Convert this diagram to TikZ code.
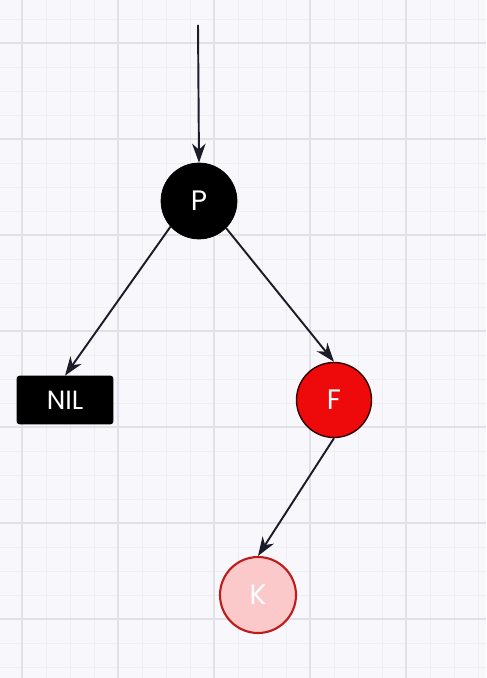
\documentclass[tikz,border=0pt]{standalone}
\usepackage{fontspec}
\newfontfamily\treefont{Poppins}
\usepackage{tikz}
\usetikzlibrary{arrows.meta, positioning}

\definecolor{paper}{HTML}{F8F8FC}
\definecolor{gridminor}{HTML}{EEEEF3}
\definecolor{gridmajor}{HTML}{E1E1E8}
\definecolor{inkdark}{HTML}{1C1C28}
\definecolor{redfill}{HTML}{EE0A0A}
\definecolor{pinkfill}{HTML}{FBC9C9}
\definecolor{pinkedge}{HTML}{C01A1A}

\begin{document}
\begin{tikzpicture}[
  x=0.02cm, y=-0.02cm,
  font=\treefont\fontsize{16}{18}\selectfont,
  blacknode/.style={circle, draw=black, fill=black, text=white, minimum size=1.52cm, inner sep=0pt},
  rednode/.style={circle, draw=black!80!red, line width=0.8pt, fill=redfill, text=white, minimum size=1.5cm, inner sep=0pt},
  newnode/.style={circle, draw=pinkedge, line width=1.2pt, fill=pinkfill, text=white, minimum size=1.52cm, inner sep=0pt},
  nilbox/.style={draw=black, fill=black, text=white, rounded corners=1.5pt, minimum width=1.92cm, minimum height=0.96cm, inner sep=0pt},
  edge/.style={line width=1.1pt, inkdark, -{Stealth[length=3.8mm, width=2.7mm, inset=1.2mm]}},
  minorline/.style={gridminor, line width=0.5pt},
  majorline/.style={gridmajor, line width=0.9pt},
]
% Paper and grid
\fill[paper] (0,0) rectangle (486,678);
\useasboundingbox (0,0) rectangle (486,678);
\foreach \gx in {-2,22,...,486} { \draw[minorline] (\gx,0) -- (\gx,678); }
\foreach \gy in {19,43,...,678} { \draw[minorline] (0,\gy) -- (486,\gy); }
\foreach \gx in {22,118,...,486} { \draw[majorline] (\gx,0) -- (\gx,678); }
\foreach \gy in {43,139,...,678} { \draw[majorline] (0,\gy) -- (486,\gy); }

% Nodes
\node[blacknode] (P) at (199,201) {P};
\node[nilbox] (NIL) at (65,400) {\fontsize{15}{17}\selectfont NIL};
\node[rednode] (F) at (334,400) {F};
\node[newnode] (K) at (258,595) {K};
\coordinate (entry) at (198,25);

% Connectors
\draw[edge] (entry) -- (P.north);
\draw[edge] (P.222) -- (NIL.north);
\draw[edge] (P.-45) -- (F.north);
\draw[edge] (F.south) -- (K.north);
\end{tikzpicture}
\end{document}
